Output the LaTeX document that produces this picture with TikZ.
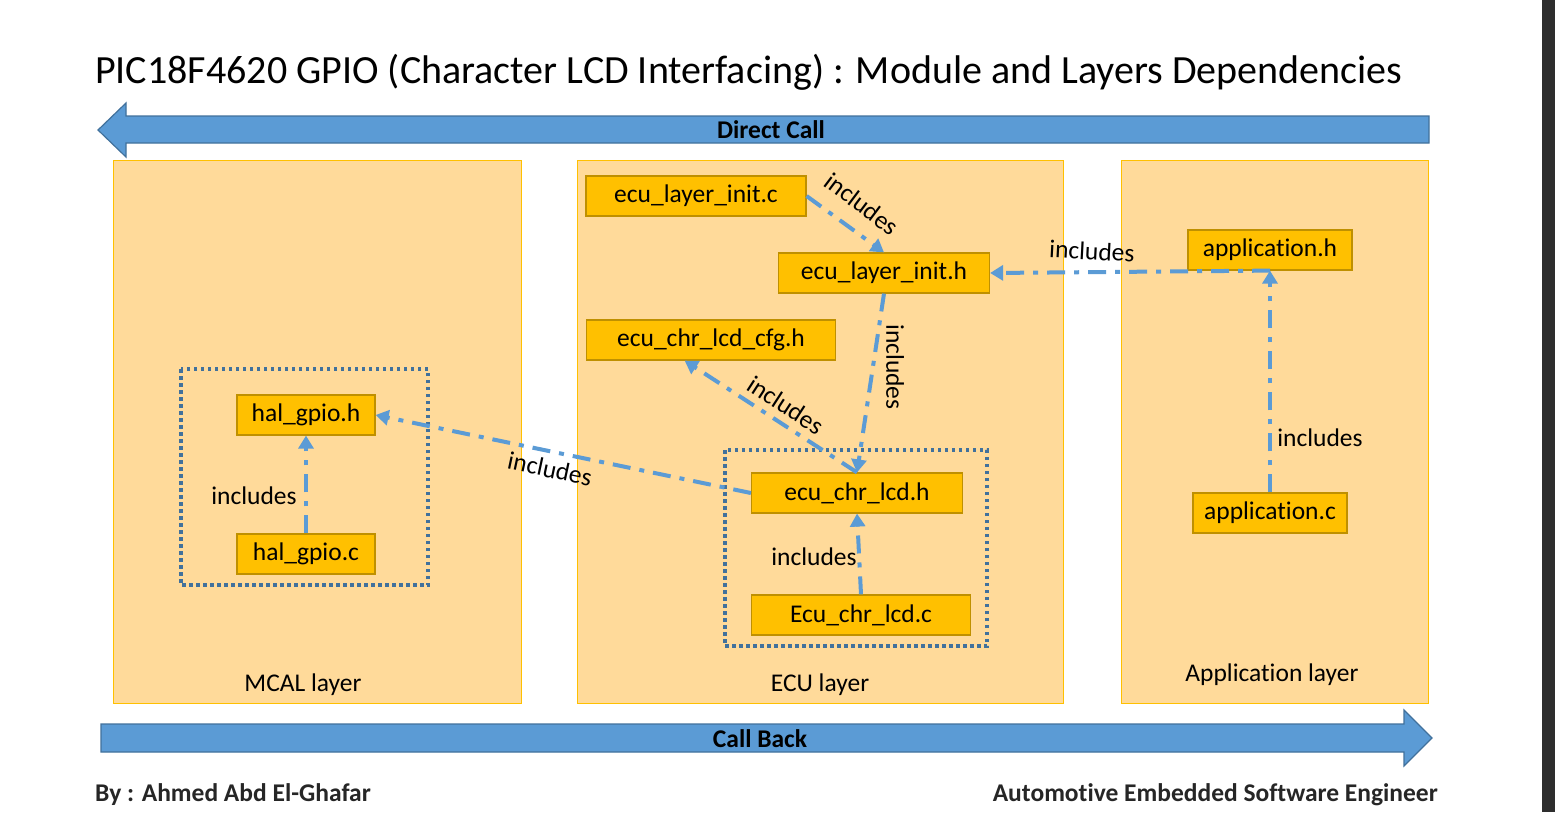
\documentclass[tikz,border=0pt]{standalone}
\usepackage{fontspec}
\setmainfont{Carlito}[Ligatures=NoCommon]
\usetikzlibrary{arrows.meta}

\definecolor{layerfill}{HTML}{FFDA9A}
\definecolor{layerline}{HTML}{FFC000}
\definecolor{filefill}{HTML}{FFC000}
\definecolor{fileline}{HTML}{BF9000}
\definecolor{callblue}{HTML}{5B9BD5}
\definecolor{callline}{HTML}{41719C}
\definecolor{viewerbar}{HTML}{2E2E2E}

\tikzset{
  layer/.style={draw=layerline, fill=layerfill, line width=1pt},
  file/.style={draw=fileline, fill=filefill, line width=1.2pt, minimum height=40pt,
    inner sep=0pt, font=\fontsize{25.5}{30}\selectfont},
  group/.style={draw=callline, line width=3.5pt, dash pattern=on 3.5pt off 3.5pt},
  inc/.style={draw=callblue, line width=4pt, dash pattern=on 18pt off 9pt on 5pt off 9pt,
    -{Triangle[length=13pt,width=15pt]}},
  inclabel/.style={font=\fontsize{25.5}{30}\selectfont, inner sep=0pt},
  layerlabel/.style={font=\fontsize{25.5}{30}\selectfont},
  callarrow/.style={fill=callblue, draw=callline, line width=1.2pt},
  calltext/.style={font=\bfseries\fontsize{25.5}{30}\selectfont},
  foot/.style={font=\bfseries\fontsize{25.5}{30}\selectfont, text=black!85},
}

\begin{document}
\begin{tikzpicture}[x=1pt, y=-1pt]
\useasboundingbox (0,0) rectangle (1555,812);
\fill[white] (0,0) rectangle (1555,812);
\fill[viewerbar] (1542,0) rectangle (1555,812);

% title
\node[anchor=base west, inner sep=0pt, font=\fontsize{40}{46}\selectfont] (title) at (95,83)
  {PIC18F4620 GPIO (Character LCD Interfacing) : Module and Layers Dependencies};

% call arrows
\draw[callarrow] (1429,116) -- (126,116) -- (126,103) -- (98,130) -- (126,157)
  -- (126,143) -- (1429,143) -- cycle;
\node[calltext] (direct) at (771,130) {Direct Call};
\draw[callarrow] (101,724) -- (1404,724) -- (1404,710) -- (1432,738) -- (1404,766)
  -- (1404,752) -- (101,752) -- cycle;
\node[calltext] (callback) at (760,739) {Call Back};

% layers
\draw[layer] (113,160) rectangle (521,703);
\draw[layer] (577,160) rectangle (1063,703);
\draw[layer] (1121,160) rectangle (1428,703);
\node[layerlabel] (mcal) at (303,685) {MCAL layer};
\node[layerlabel] (ecu) at (820,685) {ECU layer};
\node[layerlabel] (app) at (1272,675) {Application layer};

% module groups
\draw[group] (181,369) rectangle (428,585);
\draw[group] (725,450) rectangle (987,646);

% files
\node[file, minimum width=220pt] (ecuinitc) at (696,196) {ecu\_layer\_init.c};
\node[file, minimum width=211pt] (ecuinith) at (884,273) {ecu\_layer\_init.h};
\node[file, minimum width=249pt] (lcdcfg) at (711,340) {ecu\_chr\_lcd\_cfg.h};
\node[file, minimum width=211pt] (lcdh) at (857,493) {ecu\_chr\_lcd.h};
\node[file, minimum width=219pt] (lcdc) at (861,615) {Ecu\_chr\_lcd.c};
\node[file, minimum width=138pt] (gpioh) at (306,415) {hal\_gpio.h};
\node[file, minimum width=138pt] (gpioc) at (306,554) {hal\_gpio.c};
\node[file, minimum width=164pt] (apph) at (1270,250) {application.h};
\node[file, minimum width=154pt] (appc) at (1270,513) {application.c};

% includes
\draw[inc] (ecuinitc.east) -- (ecuinith.north);
\draw[inc] (apph.south) -- (ecuinith.east);
\draw[inc] (appc.north) -- (apph.south);
\draw[inc] (ecuinith.south) -- (lcdh.north);
\draw[inc] (lcdh.north) -- (lcdcfg.218);
\draw[inc] (lcdh.west) -- (gpioh.east);
\draw[inc] (lcdc.north) -- (lcdh.south);
\draw[inc] (gpioc.north) -- (gpioh.south);

\node[inclabel, rotate=-37] (inc1) at (862,204) {includes};
\node[inclabel, rotate=-3] (inc2) at (1092,251) {includes};
\node[inclabel] (inc3) at (1320,438) {includes};
\node[inclabel, rotate=-90] (inc4) at (895,367) {includes};
\node[inclabel, rotate=-33] (inc5) at (786,405) {includes};
\node[inclabel, rotate=-12] (inc6) at (550,469) {includes};
\node[inclabel] (inc7) at (814,557) {includes};
\node[inclabel] (inc8) at (254,496) {includes};

% footer
\node[foot, anchor=base west, inner sep=0pt] (author) at (95,801) {By : Ahmed Abd El-Ghafar};
\node[foot, anchor=base east, inner sep=0pt] (role) at (1438,801) {Automotive Embedded Software Engineer};
\end{tikzpicture}
\end{document}
